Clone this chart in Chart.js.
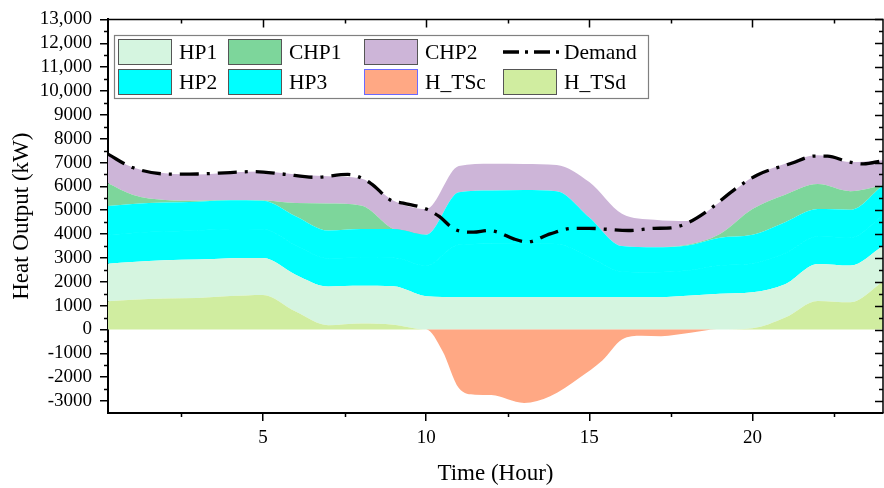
<!DOCTYPE html>
<html>
<head>
<meta charset="utf-8">
<script src="https://cdn.jsdelivr.net/npm/chart.js@4.4.1/dist/chart.umd.min.js"></script>
<style>
	html, body { margin: 0; padding: 0; background: #fff; }
	#wrap { width: 884px; height: 488px; position: relative; }
</style>
</head>
<body>
<div id="wrap"><canvas id="heat"></canvas></div>
<script>
// hour of day for every supply sample
const hours = [0.25, 1, 2, 3, 4, 5, 6, 7, 8, 9, 10, 11, 12, 13, 14, 15, 16, 17, 18, 19, 20, 21, 22, 23, 24];

// unit outputs (kW), stacked in this order
const hTSd = [1180, 1250, 1300, 1320, 1400, 1450, 750, 180, 250, 200, 0, 0, 0, 0, 0, 0, 0, 0, 0, 0, 50, 500, 1200, 1140, 2000];
const hp1  = [1580, 1580, 1600, 1610, 1590, 1550, 1550, 1620, 1580, 1610, 1390, 1350, 1350, 1350, 1350, 1350, 1350, 1350, 1420, 1500, 1510, 1400, 1550, 1540, 1500];
const hp2  = [1210, 1220, 1210, 1220, 1220, 1200, 1230, 1180, 1190, 1200, 1290, 2200, 2240, 2250, 2230, 1680, 1080, 1050, 1050, 1180, 1210, 1300, 1150, 1170, 1280];
const hp3  = [1210, 1210, 1210, 1210, 1210, 1200, 1220, 1170, 1190, 1200, 1290, 2200, 2240, 2250, 2220, 1670, 1070, 1050, 1050, 1170, 1200, 1300, 1150, 1170, 1270];
const chp1 = [950, 390, 110, 40, 10, 20, 550, 1130, 990, 0, 0, 0, 0, 0, 0, 0, 0, 0, 30, 150, 1080, 1150, 1050, 780, 0];
const chp2 = [1220, 1150, 1120, 1100, 1150, 1200, 1200, 1140, 1130, 1190, 1080, 1100, 1120, 1090, 1100, 1480, 1350, 1150, 1000, 1350, 1330, 1300, 1200, 1220, 1050];

// storage charging (negative), sampled on its own hours
const chargeHours = [0.25, 10, 10.5, 11, 11.5, 12, 13, 13.8, 14.7, 15.4, 16, 16.6, 17.2, 18.1, 18.9, 24];
const hTSc = [0, 0, -900, -2450, -2730, -2750, -3080, -2800, -2020, -1300, -420, -260, -280, -140, 0, 0];

// heat demand
const demandHours = [0.25, 1, 2.2, 3, 4, 4.7, 5.6, 6.6, 7.6, 8.3, 8.9, 9.3, 10, 10.4, 10.85, 11.45, 11.9, 12.2, 12.7, 13.1, 13.8, 14.5, 15, 16.2, 17, 17.5, 18, 18.6, 19.5, 20.15, 21.2, 21.9, 22.3, 22.9, 23.4, 24];
const demand = [7350, 6790, 6510, 6520, 6580, 6620, 6520, 6380, 6500, 6130, 5430, 5300, 5050, 4740, 4220, 4080, 4150, 4080, 3790, 3670, 4010, 4240, 4240, 4150, 4240, 4260, 4460, 4950, 5920, 6480, 6970, 7270, 7270, 7040, 6940, 7080];

// axis ticks
const hourTicks = [5, 10, 15, 20];
const hourMinor = [2.5, 7.5, 12.5, 17.5, 22.5];
const kwTicks = [-3000, -2000, -1000, 0, 1000, 2000, 3000, 4000, 5000, 6000, 7000, 8000, 9000, 10000, 11000, 12000, 13000];
const kwLabels = ['-3000', '-2000', '-1000', '0', '1000', '2000', '3000', '4000', '5000', '6000', '7000', '8000', '9000', '10,000', '11,000', '12,000', '13,000'];
const kwMinor = [-2500, -1500, -500, 500, 1500, 2500, 3500, 4500, 5500, 6500, 7500, 8500, 9500, 10500, 11500, 12500];

const serif = "'Liberation Serif', 'Times New Roman', serif";

const pts = (xs, arr) => xs.map((h, i) => ({ x: h, y: arr[i] }));

const area = (label, xs, arr, color, fill, stack = 'supply') => ({
	label,
	data: pts(xs, arr),
	backgroundColor: color,
	borderColor: color,
	borderWidth: 0,
	fill,
	stack,
	pointRadius: 0,
	cubicInterpolationMode: 'monotone',
});

const hp2Area = area('HP2', hours, hp2, '#00ffff', '-1');
hp2Area.borderWidth = 1; // hides the seam against HP3

const datasets = [
	{
		label: 'Demand',
		data: pts(demandHours, demand),
		borderColor: '#000',
		backgroundColor: '#000',
		borderWidth: 3.3,
		borderDash: [19, 8, 3, 8],
		borderCapStyle: 'butt',
		fill: false,
		stack: 'demand',
		pointRadius: 0,
		cubicInterpolationMode: 'monotone',
	},
	area('H_TSc', chargeHours, hTSc, '#ffa884', 'origin', 'charge'),
	area('H_TSd', hours, hTSd, '#d0eda0', 'origin'),
	area('HP1', hours, hp1, '#d5f5e0', '-1'),
	hp2Area,
	area('HP3', hours, hp3, '#00ffff', '-1'),
	area('CHP1', hours, chp1, '#7dd69b', '-1'),
	area('CHP2', hours, chp2, '#cdb5d8', '-1'),
];

// legend grid: two rows of four entries
const legendRows = [
	['HP1', 'CHP1', 'CHP2', 'Demand'],
	['HP2', 'HP3', 'H_TSc', 'H_TSd'],
];
const legendCols = [118, 228, 364, 503];

const frameAndLegend = {
	id: 'frameAndLegend',
	afterDraw(chart) {
		const { ctx, chartArea: a, scales } = chart;
		const x = scales.x;
		const y = scales.y;
		ctx.save();
		ctx.strokeStyle = '#000';
		ctx.lineWidth = 1.5;

		// mirrored top and right axis lines
		ctx.beginPath();
		ctx.moveTo(a.left, a.top);
		ctx.lineTo(a.right, a.top);
		ctx.lineTo(a.right, a.bottom);
		ctx.stroke();

		ctx.beginPath();
		hourTicks.forEach((v) => {
			const px = Math.round(x.getPixelForValue(v)) + 0.5;
			ctx.moveTo(px, a.top);
			ctx.lineTo(px, a.top + 8);
		});
		hourMinor.forEach((v) => {
			const px = Math.round(x.getPixelForValue(v)) + 0.5;
			ctx.moveTo(px, a.top);
			ctx.lineTo(px, a.top + 4);
			ctx.moveTo(px, a.bottom);
			ctx.lineTo(px, a.bottom + 4);
		});
		kwTicks.forEach((v) => {
			const py = Math.round(y.getPixelForValue(v)) + 0.5;
			ctx.moveTo(a.right, py);
			ctx.lineTo(a.right - 8, py);
		});
		kwMinor.forEach((v) => {
			const py = Math.round(y.getPixelForValue(v)) + 0.5;
			ctx.moveTo(a.right, py);
			ctx.lineTo(a.right - 4, py);
			ctx.moveTo(a.left, py);
			ctx.lineTo(a.left - 4, py);
		});
		ctx.stroke();

		// legend box
		ctx.fillStyle = '#fff';
		ctx.fillRect(114, 35, 534, 63);
		ctx.lineWidth = 1.2;
		ctx.strokeStyle = '#808080';
		ctx.strokeRect(114.5, 35.5, 534, 63);

		ctx.font = `21.5px ${serif}`;
		ctx.textBaseline = 'middle';
		ctx.textAlign = 'left';
		legendRows.forEach((row, r) => {
			const top = 39 + r * 30;
			row.forEach((name, c) => {
				const ds = chart.data.datasets.find((d) => d.label === name);
				const left = legendCols[c];
				if (name === 'Demand') {
					ctx.strokeStyle = '#000';
					ctx.lineWidth = 3.3;
					ctx.setLineDash([16, 6, 3, 6]);
					ctx.beginPath();
					ctx.moveTo(left, top + 13);
					ctx.lineTo(left + 57, top + 13);
					ctx.stroke();
					ctx.setLineDash([]);
				} else {
					ctx.fillStyle = ds.backgroundColor;
					ctx.fillRect(left, top, 54, 26);
					ctx.lineWidth = 1;
					ctx.strokeStyle = name === 'H_TSc' ? '#6a6aff' : '#555';
					ctx.strokeRect(left + 0.5, top + 0.5, 53, 25);
				}
				ctx.fillStyle = '#000';
				ctx.fillText(name, left + 61, top + 14);
			});
		});
		ctx.restore();
	},
};

new Chart(document.getElementById('heat'), {
	type: 'line',
	data: { datasets },
	plugins: [frameAndLegend],
	options: {
		responsive: true,
		maintainAspectRatio: false,
		animation: false,
		layout: { padding: { top: 19, right: 1, left: 0, bottom: 0 } },
		plugins: {
			legend: { display: false },
			tooltip: { enabled: false },
		},
		scales: {
			x: {
				type: 'linear',
				min: 0.25,
				max: 24,
				afterBuildTicks: (s) => {
					s.ticks = hourTicks.map((v) => ({ value: v }));
				},
				afterFit: (s) => {
					s.height = 75;
				},
				ticks: {
					color: '#000',
					font: { family: serif, size: 19 },
					padding: 6,
					maxRotation: 0,
					autoSkip: false,
					callback: (v) => String(v),
				},
				grid: { drawOnChartArea: false, tickLength: 8, color: '#000', lineWidth: 1.5 },
				border: { color: '#000', width: 2 },
				title: {
					display: true,
					text: 'Time (Hour)',
					color: '#000',
					font: { family: serif, size: 23 },
					padding: { top: 0, bottom: 0 },
				},
			},
			y: {
				stacked: true,
				min: -3500,
				max: 13000,
				afterBuildTicks: (s) => {
					s.ticks = kwTicks.map((v) => ({ value: v }));
				},
				afterFit: (s) => {
					s.width = 108;
				},
				ticks: {
					color: '#000',
					font: { family: serif, size: 19 },
					padding: 8,
					autoSkip: false,
					callback: (v) => kwLabels[kwTicks.indexOf(v)],
				},
				grid: { drawOnChartArea: false, tickLength: 8, color: '#000', lineWidth: 1.5 },
				border: { color: '#000', width: 2 },
				title: {
					display: true,
					text: 'Heat Output (kW)',
					color: '#000',
					font: { family: serif, size: 23 },
					padding: { top: 8, bottom: 0 },
				},
			},
		},
	},
});
</script>
</body>
</html>
